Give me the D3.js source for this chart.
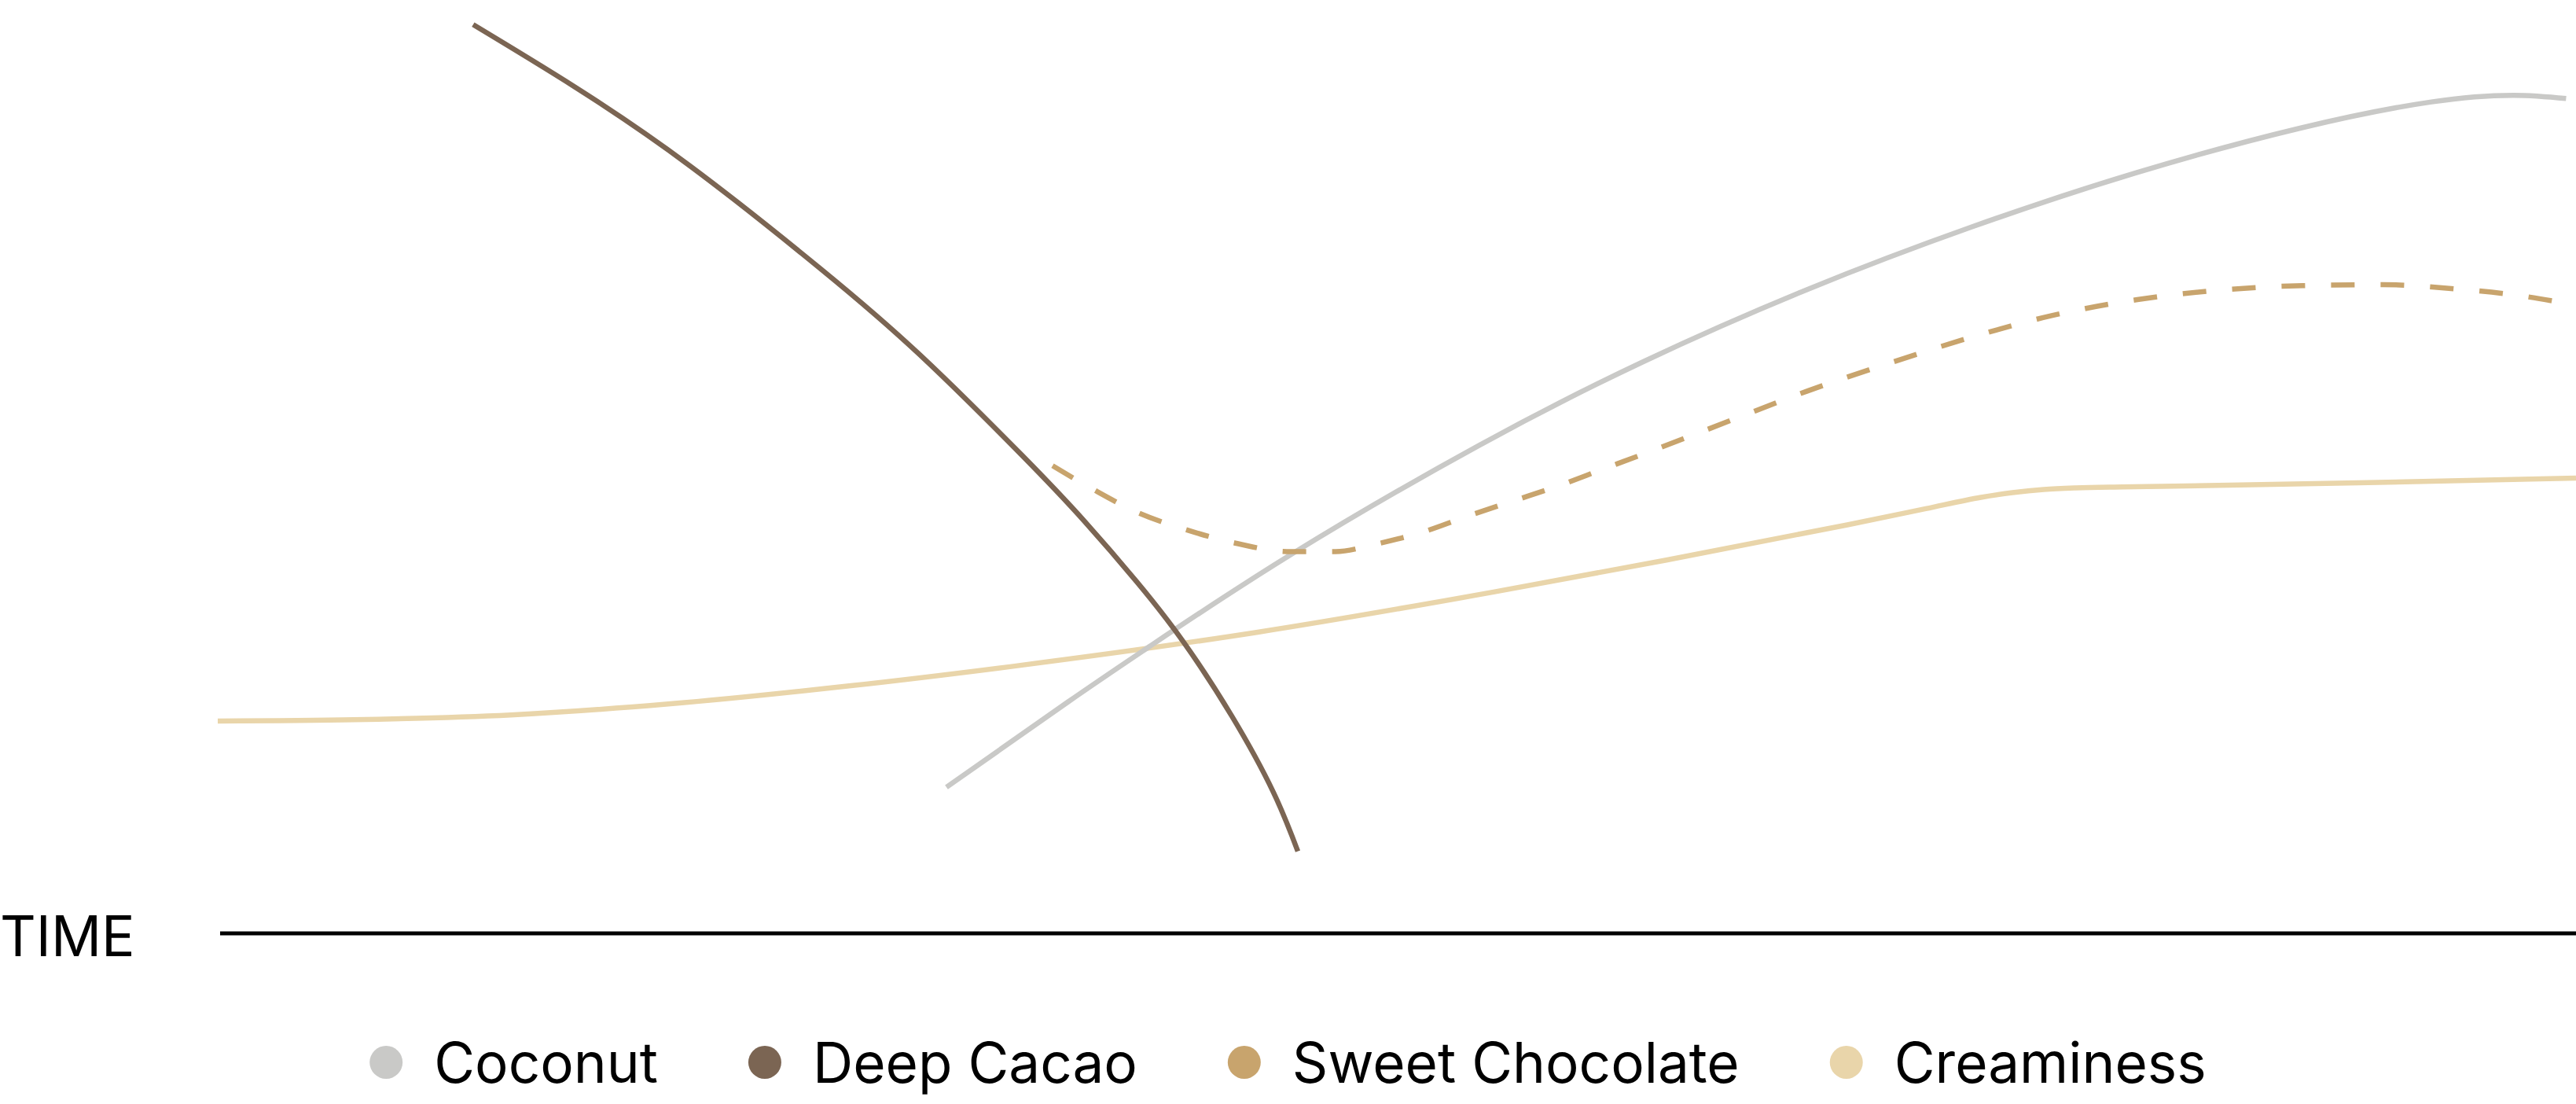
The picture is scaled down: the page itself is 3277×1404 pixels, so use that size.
<!DOCTYPE html>
<html>
<head>
<meta charset="utf-8">
<script src="https://cdn.jsdelivr.net/npm/d3@7"></script>
<style>
  html, body { margin: 0; padding: 0; background: #ffffff; }
  svg { display: block; }
</style>
</head>
<body>
<svg id="chart" width="3277" height="1404"></svg>
<script>
// ---- data (time 0-100, intensity 0-100) ----
const seriesNames = ["Coconut", "Deep Cacao", "Sweet Chocolate", "Creaminess"];
const seriesColors = ["#c9c9c7", "#7b6553", "#c8a46d", "#e9d5aa"];

const coconutTime  = [30.9, 36.05, 39.53, 45.52, 53.46, 60.43, 67.4, 74.36, 81.33, 88.3, 93.87, 97.35, 99.58];
const coconutValue = [15.66, 24.79, 30.77, 40.61, 52.25, 61.23, 68.98, 75.67, 81.47, 86.27, 89.08, 89.79, 89.44];

const cacaoTime  = [10.83, 15.15, 20.03, 25.6, 29.78, 34.1, 36.74, 38.97, 40.92, 43.01, 44.76, 45.8];
const cacaoValue = [97.36, 90.67, 82.22, 71.13, 61.97, 51.23, 44.19, 37.67, 31.33, 23.24, 15.14, 8.8];

const sweetTime  = [35.4, 37.1, 39.0, 41.0, 43.0, 45.5, 47.4, 49.1, 51.1, 53.0, 54.9, 56.8, 58.7, 60.5, 64.1, 67.4, 70.9, 74.4, 77.8, 81.4, 84.8, 88.4, 91.8, 95.1, 97.4, 99.8];
const sweetValue = [50.1, 47.6, 45.1, 43.3, 41.9, 40.9, 40.9, 41.7, 43.0, 44.7, 46.3, 47.9, 49.7, 51.4, 54.9, 58.1, 61.1, 63.9, 66.2, 67.9, 68.9, 69.4, 69.5, 69.0, 68.4, 67.4];

const creamTime  = [0, 5.77, 12.43, 19.1, 26.77, 34.1, 44.1, 54.1, 61.43, 69.1, 72.43, 74.77, 76.1, 77.43, 78.77, 80.77, 82.43, 90.77, 100];
const creamValue = [22.75, 22.89, 23.4, 24.57, 26.51, 28.74, 32.27, 36.57, 40.0, 43.77, 45.5, 46.72, 47.22, 47.56, 47.73, 47.83, 47.89, 48.27, 48.78];

const axisLabel = "TIME";

// ---- build series ----
const zip = (xs, ys) => xs.map((x, i) => ({ t: x, v: ys[i] }));
const series = [
  { name: seriesNames[0], color: seriesColors[0], dash: null, smooth: true, pts: zip(coconutTime, coconutValue) },
  { name: seriesNames[1], color: seriesColors[1], dash: null, smooth: true, pts: zip(cacaoTime, cacaoValue) },
  { name: seriesNames[2], color: seriesColors[2], dash: "30,33", smooth: false, pts: zip(sweetTime, sweetValue) },
  { name: seriesNames[3], color: seriesColors[3], dash: null, smooth: false, pts: zip(creamTime, creamValue) }
];

const svg = d3.select("#chart");
const W = 3277;
const x = d3.scaleLinear().domain([0, 100]).range([277, 3277]);
const y = d3.scaleLinear().domain([0, 100]).range([1187, 0]);

const lineSmooth = d3.line().x(d => x(d.t)).y(d => y(d.v)).curve(d3.curveNatural);
const lineMono = d3.line().x(d => x(d.t)).y(d => y(d.v)).curve(d3.curveMonotoneX);

// draw order: creaminess, coconut, sweet, cacao
const order = [3, 0, 2, 1];
svg.append("g").selectAll("path")
  .data(order.map(i => series[i]))
  .join("path")
  .attr("d", d => (d.smooth ? lineSmooth : lineMono)(d.pts))
  .attr("fill", "none")
  .attr("stroke", d => d.color)
  .attr("stroke-width", 6.5)
  .attr("stroke-dasharray", d => d.dash);

// time axis
const xAxis = d3.axisBottom(x).ticks(0).tickSize(0).tickFormat("");
const ax = svg.append("g").attr("transform", `translate(0,${y(0)})`).call(xAxis);
ax.select(".domain").attr("stroke", "#000").attr("stroke-width", 5).attr("d", `M${x(0) + 3},0H${W}`);

svg.append("text")
  .attr("x", 0)
  .attr("y", 1216)
  .attr("font-family", "Inter, 'Noto Sans', sans-serif")
  .attr("font-size", 71)
  .attr("fill", "#000")
  .text(axisLabel);

// legend
const legend = svg.append("g");
const r = 21, gapText = 40, gapItem = 115, legY = 1351, fontSize = 71;
const items = legend.selectAll("g").data(series).join("g");
items.append("circle").attr("r", r).attr("cx", r).attr("cy", legY).attr("fill", d => d.color);
items.append("text")
  .attr("x", 2 * r + gapText)
  .attr("y", legY + 26)
  .attr("font-family", "Inter, 'Noto Sans', sans-serif")
  .attr("font-size", fontSize)
  .attr("fill", "#000")
  .text(d => d.name);
let offs = [], cur = 0;
items.each(function () {
  const w = this.getBBox().width;
  offs.push(cur);
  cur += w + gapItem;
});
const total = cur - gapItem;
const start = (W - total) / 2;
items.attr("transform", (d, i) => `translate(${start + offs[i]},0)`);
</script>
</body>
</html>
